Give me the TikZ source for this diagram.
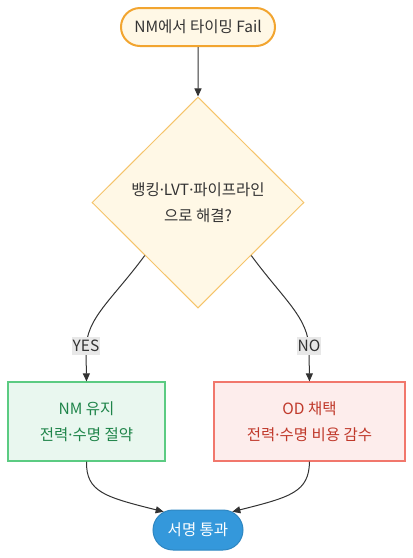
\documentclass[tikz,border=0pt]{standalone}
\usepackage{fontspec}
\setmainfont{Noto Sans CJK KR}
\newfontfamily\latinfont{Noto Sans}
\newcommand{\mdot}{{\latinfont ·}}
\usetikzlibrary{shapes.geometric,shapes.misc,arrows.meta}
\definecolor{ink}{HTML}{333333}
\definecolor{startfill}{HTML}{FFF8E6}
\definecolor{startline}{HTML}{F2A530}
\definecolor{decline}{HTML}{F5C46A}
\definecolor{okfill}{HTML}{E9F7EF}
\definecolor{okline}{HTML}{5BCB82}
\definecolor{oktext}{HTML}{1E8449}
\definecolor{ngfill}{HTML}{FDEDEC}
\definecolor{ngline}{HTML}{F1776C}
\definecolor{ngtext}{HTML}{C0392B}
\definecolor{endfill}{HTML}{3498DB}
\definecolor{endline}{HTML}{2E86C1}
\definecolor{lblfill}{HTML}{E8E8E8}
\tikzset{
  txt/.style={font=\fontsize{15.5}{26.5}\selectfont, align=center, inner sep=0pt},
  startnode/.style={txt, rounded rectangle, draw=startline, line width=2pt, fill=startfill, text=ink, minimum width=154, minimum height=38},
  decnode/.style={txt, diamond, draw=decline, line width=1pt, fill=startfill, text=ink, minimum width=212, minimum height=211},
  okbox/.style={txt, rectangle, draw=okline, line width=1.2pt, fill=okfill, text=oktext, minimum width=157, minimum height=79},
  ngbox/.style={txt, rectangle, draw=ngline, line width=1.2pt, fill=ngfill, text=ngtext, minimum width=191, minimum height=79},
  endnode/.style={txt, rounded rectangle, draw=endline, line width=1pt, fill=endfill, text=white, minimum width=90, minimum height=40},
  arr/.style={draw=ink, line width=1pt, -{Triangle[length=8pt,width=7pt]}},
  lbl/.style={txt, fill=lblfill, text=ink, inner xsep=1pt, inner ysep=3pt}
}
\begin{document}
\begin{tikzpicture}[x=1pt,y=-1pt]
\useasboundingbox (0,0) rectangle (413,558);
\node[startnode] (a) at (198,27) {NM에서 타이밍 Fail};
\node[decnode] (d) at (198,202.5) {뱅킹\mdot LVT\mdot 파이프라인\\으로 해결?};
\node[okbox] (l) at (86.5,421.5) {NM 유지\\전력\mdot 수명 절약};
\node[ngbox] (r) at (309.5,421.5) {OD 채택\\전력\mdot 수명 비용 감수};
\node[endnode] (e) at (198,530) {서명 통과};
\draw[arr] (a) -- (d);
\draw[arr] (d.south west) .. controls (112,300) and (86,318) .. (86,350) -- (l.north);
\draw[arr] (d.south east) .. controls (284,300) and (309,318) .. (309,350) -- (r.north);
\node[lbl] (yes) at (86,346) {YES};
\node[lbl] (no) at (309,346) {NO};
\draw[arr] (l.south) .. controls (86,492) and (105,497) .. (e.152);
\draw[arr] (r.south) .. controls (309,492) and (291,497) .. (e.28);
\end{tikzpicture}
\end{document}
